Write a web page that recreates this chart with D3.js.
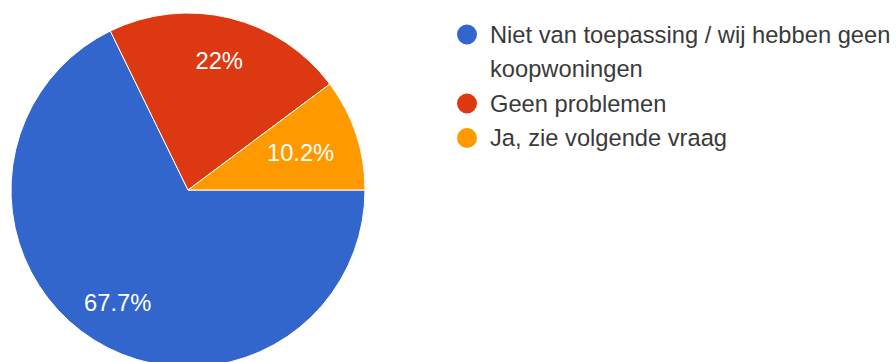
<!DOCTYPE html>
<html>
<head>
<meta charset="utf-8">
<script src="https://cdn.jsdelivr.net/npm/d3@7"></script>
<style>
  html, body { margin: 0; padding: 0; background: #fff; }
  svg { display: block; font-family: Arial, "Liberation Sans", sans-serif; }
</style>
</head>
<body>
<div id="chart"></div>
<script>
// answers, in the order they are drawn (clockwise from 3 o'clock)
const categories = [
    "Niet van toepassing / wij hebben geen koopwoningen",
    "Geen problemen",
    "Ja, zie volgende vraag"
];
const percentages = [67.7, 22, 10.2];
const colors = ["#3366cc", "#dc3912", "#ff9900"];

const width = 896, height = 362;
const cx = 188, cy = 190, radius = 177;
const fontSize = 23.7;

const svg = d3.select("#chart")
    .append("svg")
    .attr("width", width)
    .attr("height", height);

const data = categories.map((c, i) => ({ name: c, value: percentages[i], color: colors[i] }));

const pie = d3.pie()
    .value(d => d.value)
    .sort(null)
    .startAngle(Math.PI / 2)
    .endAngle(Math.PI / 2 + 2 * Math.PI);

const arc = d3.arc().innerRadius(0).outerRadius(radius);

const g = svg.append("g").attr("transform", `translate(${cx}, ${cy})`);
const arcs = pie(data);

g.selectAll(".slice")
    .data(arcs)
    .join("path")
    .attr("class", "slice")
    .attr("d", arc)
    .attr("fill", d => d.data.color)
    .attr("stroke", "#fff")
    .attr("stroke-width", 1);

// slice labels, small slices are pulled a bit more inward
g.selectAll(".slice-label")
    .data(arcs)
    .join("text")
    .attr("class", "slice-label")
    .attr("transform", d => {
        let r = radius * (d.data.value < 15 ? 0.67 : 0.75);
        let a = (d.startAngle + d.endAngle) / 2;
        return `translate(${r * Math.sin(a)}, ${-r * Math.cos(a)})`;
    })
    .attr("text-anchor", "middle")
    .attr("dy", "0.35em")
    .attr("fill", "#fff")
    .style("font-size", fontSize + "px")
    .text(d => d.data.value + "%");

// legend
const legendX = 467, legendY = 34.5, lineH = 34.5, maxTextW = 405;
const legend = svg.append("g");
let row = 0;
data.forEach(d => {
    let y = legendY + row * lineH;
    legend.append("circle")
        .attr("cx", legendX)
        .attr("cy", y)
        .attr("r", 10)
        .attr("fill", d.color);

    let text = legend.append("text")
        .attr("x", legendX + 23)
        .attr("y", y)
        .attr("dy", "0.35em")
        .attr("fill", "#3a3a3a")
        .style("font-size", fontSize + "px");

    // simple word wrap
    let words = d.name.split(" ");
    let line = [];
    let tspan = text.append("tspan").attr("x", legendX + 23);
    words.forEach(w => {
        line.push(w);
        tspan.text(line.join(" "));
        if (tspan.node().getComputedTextLength() > maxTextW && line.length > 1) {
            line.pop();
            tspan.text(line.join(" "));
            line = [w];
            row++;
            tspan = text.append("tspan")
                .attr("x", legendX + 23)
                .attr("dy", lineH)
                .text(w);
        }
    });
    row++;
});
</script>
</body>
</html>
